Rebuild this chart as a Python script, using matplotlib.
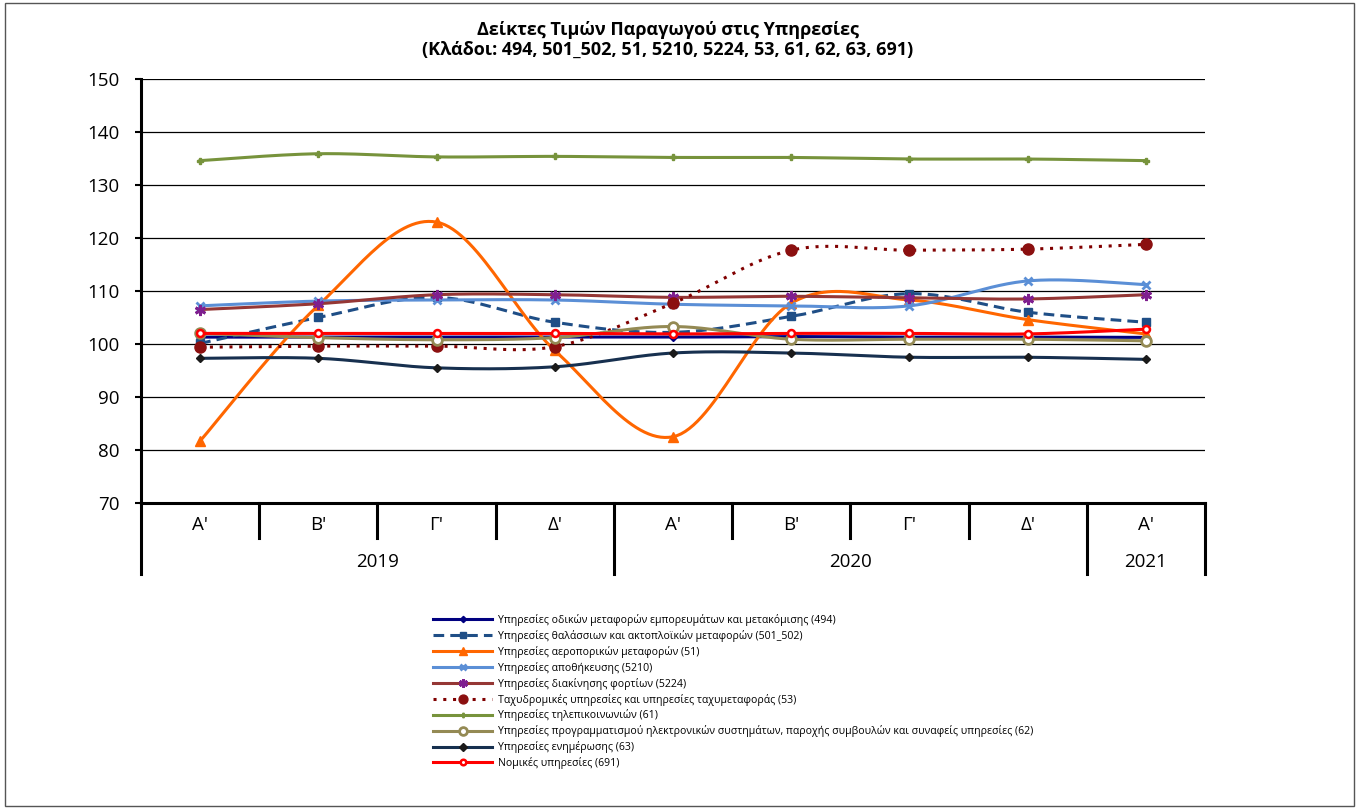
import numpy as np
import matplotlib
matplotlib.use('Agg')
import matplotlib.pyplot as plt
import matplotlib.transforms as mtransforms
from matplotlib.patches import Rectangle

plt.rcParams['font.family'] = ['Open Sans', 'DejaVu Sans']

# data
quarters = ["Α'", "Β'", "Γ'", "Δ'", "Α'", "Β'", "Γ'", "Δ'", "Α'"]
years = ['2019', '2020', '2021']
year_spans = [(0, 3), (4, 7), (8, 8)]

road_494 = [101.3, 101.3, 101.3, 101.3, 101.3, 101.4, 101.3, 101.3, 101.25]
sea_501_502 = [100.1, 105.0, 108.8, 104.1, 102.2, 105.2, 109.5, 106.0, 104.1]
air_51 = [81.7, 107.3, 123.0, 98.8, 82.5, 107.7, 108.3, 104.6, 101.9]
storage_5210 = [107.2, 108.1, 108.3, 108.3, 107.5, 107.2, 107.2, 111.9, 111.2]
cargo_5224 = [106.5, 107.6, 109.3, 109.3, 108.8, 109.0, 108.7, 108.5, 109.3]
postal_53 = [99.4, 99.6, 99.6, 99.5, 107.7, 117.7, 117.7, 117.9, 118.8]
telecom_61 = [134.6, 135.9, 135.3, 135.4, 135.2, 135.2, 134.9, 134.9, 134.6]
prog_62 = [102.0, 101.2, 100.8, 101.2, 103.3, 100.9, 100.9, 100.9, 100.6]
info_63 = [97.3, 97.3, 95.5, 95.7, 98.3, 98.3, 97.5, 97.5, 97.1]
legal_691 = [102.0, 102.0, 102.0, 102.0, 101.9, 102.0, 102.0, 101.9, 102.8]

labels = [
    'Υπηρεσίες οδικών μεταφορών εμπορευμάτων και μετακόμισης (494)',
    'Υπηρεσίες θαλάσσιων και ακτοπλοϊκών μεταφορών (501_502)',
    'Υπηρεσίες αεροπορικών μεταφορών (51)',
    'Υπηρεσίες αποθήκευσης (5210)',
    'Υπηρεσίες διακίνησης φορτίων (5224)',
    'Ταχυδρομικές υπηρεσίες και υπηρεσίες ταχυμεταφοράς (53)',
    'Υπηρεσίες τηλεπικοινωνιών (61)',
    'Υπηρεσίες προγραμματισμού ηλεκτρονικών συστημάτων, παροχής συμβουλών και συναφείς υπηρεσίες (62)',
    'Υπηρεσίες ενημέρωσης (63)',
    'Νομικές υπηρεσίες (691)',
]
series = [road_494, sea_501_502, air_51, storage_5210, cargo_5224,
          postal_53, telecom_61, prog_62, info_63, legal_691]

# line style, color, marker, marker size, marker face, marker edge
styles = [
    dict(color='#000080', ls='-', marker='D', ms=4, mfc='#000080', mec='#000080'),
    dict(color='#1f4e86', ls=(0, (3.5, 2)), marker='s', ms=6, mfc='#1f4e86', mec='#1f4e86'),
    dict(color='#ff6600', ls='-', marker='^', ms=7, mfc='#ff6600', mec='#ff6600'),
    dict(color='#5b8fd6', ls='-', marker='x', ms=6, mfc='#5b8fd6', mec='#5b8fd6', mew=2),
    dict(color='#953735', ls='-', marker=(6, 2, 0), ms=8, mfc='#7f1f8f', mec='#7f1f8f', mew=2),
    dict(color='#800000', ls=(0, (1, 2.2)), marker='o', ms=8, mfc='#8b1010', mec='#8b1010'),
    dict(color='#77933c', ls='-', marker='P', ms=4, mfc='#77933c', mec='#77933c'),
    dict(color='#948a54', ls='-', marker='o', ms=7, mfc='white', mec='#948a54', mew=2),
    dict(color='#17304f', ls='-', marker='D', ms=4.5, mfc='#1a1a1a', mec='#1a1a1a'),
    dict(color='#ff0000', ls='-', marker='o', ms=5, mfc='white', mec='#ff0000', mew=1.8),
]


def smooth(xs, ys, n=30):
    # bezier smoothing like the spreadsheet "smoothed line"
    p = np.column_stack([xs, ys]).astype(float)
    out = [p[0:1]]
    t = np.linspace(0, 1, n)[1:, None]
    for i in range(len(p) - 1):
        p0 = p[max(i - 1, 0)]
        p1 = p[i]
        p2 = p[i + 1]
        p3 = p[min(i + 2, len(p) - 1)]
        c1 = p1 + (p2 - p0) / 6
        c2 = p2 - (p3 - p1) / 6
        seg = ((1 - t) ** 3) * p1 + 3 * ((1 - t) ** 2) * t * c1 + 3 * (1 - t) * t ** 2 * c2 + t ** 3 * p2
        out.append(seg)
    c = np.vstack(out)
    return c[:, 0], c[:, 1]


fig = plt.figure(figsize=(13.61, 8.09), dpi=100)
ax = fig.add_axes([141 / 1361, 1 - 503 / 809, 1064 / 1361, 424 / 809])

x = np.arange(len(quarters))
handles = []
for k, (vals, st, lab) in enumerate(zip(series, styles, labels)):
    sx, sy = smooth(x, vals)
    ax.plot(sx, sy, color=st['color'], ls=st['ls'], lw=2.2, zorder=3 + k)
    ax.plot(x, vals, ls='none', marker=st['marker'], ms=st['ms'], mfc=st['mfc'],
            mec=st['mec'], mew=st.get('mew', 1), zorder=3 + k)
    h, = ax.plot([], [], color=st['color'], ls=st['ls'], lw=2.2, marker=st['marker'],
                 ms=st['ms'] * 0.8, mfc=st['mfc'], mec=st['mec'], mew=st.get('mew', 1))
    handles.append(h)

ax.set_xlim(-0.5, len(quarters) - 0.5)
ax.set_ylim(70, 150)
ax.set_yticks(np.arange(70, 151, 10))
ax.set_xticks([])
ax.yaxis.grid(True, color='black', lw=0.9)
ax.set_axisbelow(True)
for s in ['top', 'right']:
    ax.spines[s].set_visible(False)
ax.spines['left'].set_linewidth(2.2)
ax.spines['bottom'].set_linewidth(2.2)
ax.tick_params(axis='y', labelsize=13.5, length=4.5, width=1.5, direction='out', pad=11)

# category band below the axis
tr = mtransforms.blended_transform_factory(ax.transData, ax.transAxes)
for i in range(1, len(quarters)):
    if i in (4, 8):
        continue
    ax.plot([i - 0.5, i - 0.5], [0, -0.083], color='black', lw=2.2, transform=tr, clip_on=False)
for xb in (-0.5, 3.5, 7.5, 8.5):
    ax.plot([xb, xb], [0, -0.168], color='black', lw=2.2, transform=tr, clip_on=False)
for i, q in enumerate(quarters):
    ax.text(i, -0.052, q, transform=tr, ha='center', va='center', fontsize=13.5)
for yr, (a, b) in zip(years, year_spans):
    ax.text((a + b) / 2, -0.139, yr, transform=tr, ha='center', va='center', fontsize=13.5)

fig.text(668 / 1361, 1 - 30 / 809, 'Δείκτες Τιμών Παραγωγού στις Υπηρεσίες',
         ha='center', va='center', fontsize=13, fontweight='bold')
fig.text(668 / 1361, 1 - 50 / 809, '(Κλάδοι: 494, 501_502, 51, 5210, 5224, 53, 61, 62, 63, 691)',
         ha='center', va='center', fontsize=13, fontweight='bold')

fig.legend(handles, labels, loc='upper left', bbox_to_anchor=(433 / 1361, 1 - 614 / 809),
           frameon=False, fontsize=7.6, handlelength=5.6, handletextpad=0.6,
           labelspacing=0.37, borderpad=0, borderaxespad=0)

fig.patches.append(Rectangle((5 / 1361, 3 / 809), 1349 / 1361, 803 / 809, transform=fig.transFigure,
                             fill=False, edgecolor='#555555', lw=1))

fig.savefig('out.png', dpi=100)
